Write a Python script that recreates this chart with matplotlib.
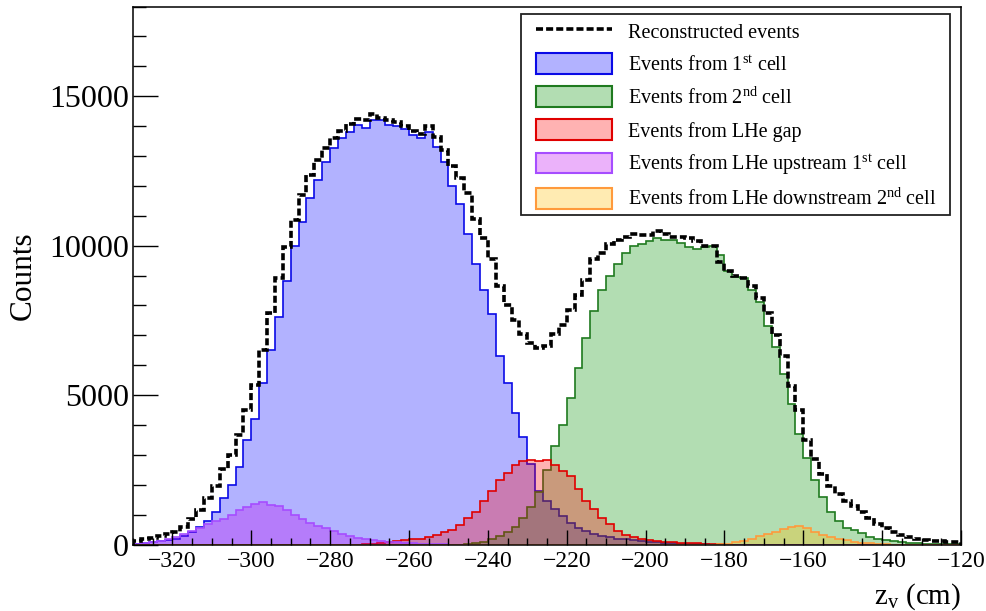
import numpy as np
import matplotlib
matplotlib.use('Agg')
import matplotlib.pyplot as plt
from matplotlib.patches import Patch, Rectangle
from matplotlib.lines import Line2D
from matplotlib.ticker import MultipleLocator

plt.rcParams['font.family'] = 'Liberation Serif'
plt.rcParams['mathtext.fontset'] = 'custom'
plt.rcParams['mathtext.rm'] = 'Liberation Serif'
plt.rcParams['mathtext.it'] = 'Liberation Serif:italic'

# 2 cm bins from -330 to -120 cm
edges = np.arange(-330, -118, 2)

# reconstructed events, every bin (-329 ... -121)
total = [120, 170, 220, 270, 340, 430, 580, 850, 1150, 1550,
         1950, 2520, 3000, 3680, 4500, 5350, 6500, 7750, 8900, 9950,
         10850, 11700, 12350, 12850, 13250, 13600, 13850, 14080, 14250, 14200,
         14420, 14280, 14200, 14130, 14000, 13850, 13720, 14000, 13650, 13200,
         12680, 12250, 11750, 10900, 10250, 9550, 8650, 8000, 7500, 7050,
         6750, 6580, 6650, 7050, 7350, 7850, 8350, 8850, 9550, 9750,
         10050, 10200, 10300, 10380, 10350, 10350, 10480, 10400, 10300, 10280,
         10250, 10150, 9980, 10000, 9450, 9150, 9000, 8900, 8650, 8250,
         7750, 7000, 6300, 5300, 4500, 3500, 2850, 2350, 1950, 1700,
         1450, 1300, 1080, 880, 700, 540, 420, 320, 250, 200,
         160, 130, 110, 90, 80]

# components: (first bin low edge, counts)
cell1_start = -330
cell1 = [30, 50, 80, 110, 150, 200, 300, 420, 580, 800,
         1080, 1550, 2000, 2600, 3500, 4200, 5400, 6500, 7600, 8800,
         10000, 10800, 11600, 12200, 12800, 13250, 13600, 13800, 14050, 13950,
         14200, 14200, 14050, 14000, 13900, 13700, 13600, 13800, 13300, 12800,
         12000, 11400, 10400, 9400, 8500, 7700, 6300, 5400, 4400, 3600,
         2700, 1800, 1450, 1200, 950, 720, 560, 440, 360, 300,
         240, 200, 170, 140, 110, 90, 70, 50, 40, 30,
         20, 15, 10]

cell2_start = -246
cell2 = [30, 60, 100, 170, 280, 420, 600, 900, 1250, 1750,
         2500, 3300, 4000, 4900, 5900, 6900, 7800, 8500, 9000, 9400,
         9750, 10000, 10060, 10150, 10250, 10200, 10180, 10100, 9950, 9900,
         9950, 9980, 9700, 9150, 8950, 8900, 8500, 8100, 7300, 6600,
         5700, 4700, 3700, 2900, 2150, 1600, 1100, 780, 560, 470,
         380, 260, 200, 150, 110, 80, 60, 40, 25, 15,
         10, 5, 3]

gap_start = -272
gap = [10, 30, 50, 80, 110, 140, 170, 200, 260, 330,
       420, 500, 650, 880, 1100, 1450, 1800, 2150, 2400, 2650,
       2780, 2820, 2780, 2820, 2650, 2450, 2300, 1850, 1450, 1180,
       900, 680, 450, 330, 260, 200, 150, 120, 100, 80,
       60, 50, 40, 30, 20, 10]

upstream_start = -330
upstream = [20, 40, 70, 130, 180, 250, 350, 450, 550, 680,
            780, 860, 1000, 1150, 1250, 1350, 1420, 1330, 1290, 1150,
            1000, 850, 730, 630, 540, 450, 360, 290, 230, 180,
            140, 115, 95, 75, 55, 40, 30, 20, 15, 10]

downstream_start = -182
downstream = [10, 30, 70, 120, 200, 270, 340, 430, 520, 580,
              630, 540, 430, 330, 260, 190, 140, 100, 65, 35,
              15, 5]

labels = ['Reconstructed events',
          r'Events from 1$^{\rm st}$ cell',
          r'Events from 2$^{\rm nd}$ cell',
          'Events from LHe gap',
          r'Events from LHe upstream 1$^{\rm st}$ cell',
          r'Events from LHe downstream 2$^{\rm nd}$ cell']


def pad(start, vals):
    out = np.zeros(len(edges) - 1)
    i = (start - edges[0]) // 2
    out[i:i + len(vals)] = vals
    return out


comps = [
    (pad(cell1_start, cell1), (0, 0, 1, 0.3), '#0a0ae6'),
    (pad(cell2_start, cell2), (0, 0.57, 0, 0.3), '#1f7a1f'),
    (pad(gap_start, gap), (1, 0, 0, 0.3), '#e00000'),
    (pad(upstream_start, upstream), (0.75, 0, 0.94, 0.3), '#a64dff'),
    (pad(downstream_start, downstream), (1, 0.74, 0, 0.3), '#ff9a3c'),
]

fig = plt.figure(figsize=(9.86, 6.11), dpi=100)
ax = fig.add_axes([133 / 986, 66.5 / 611, 828 / 986, 538 / 611])

for vals, fc, lc in comps:
    ax.stairs(vals, edges, fill=True, facecolor=fc, edgecolor='none', linewidth=0)
    ax.stairs(vals, edges, color=lc, linewidth=1.2)

dash = (0, (1.95, 0.85))
ax.stairs(total, edges, color='k', linewidth=2.6, linestyle=dash)

ax.set_xlim(-330, -120)
ax.set_ylim(0, 18000)
ax.xaxis.set_major_locator(MultipleLocator(20))
ax.xaxis.set_minor_locator(MultipleLocator(5))
ax.yaxis.set_major_locator(MultipleLocator(5000))
ax.yaxis.set_minor_locator(MultipleLocator(1000))
ax.tick_params(which='both', direction='in', top=False, right=False, width=1)
ax.tick_params(axis='y', which='major', length=18, labelsize=23, pad=3)
ax.tick_params(axis='y', which='minor', length=9.5)
ax.tick_params(axis='x', which='major', length=10.8, labelsize=17, pad=5)
ax.tick_params(axis='x', which='minor', length=5)
for s in ax.spines.values():
    s.set_linewidth(1.1)

ax.set_ylabel('Counts', fontsize=22.5)
ax.yaxis.set_label_coords((38 - 133) / 828, 0.5)
ax.set_xlabel(r'z$_{\rm v}$ (cm)', fontsize=21, loc='right')
ax.xaxis.label.set_va('baseline')
ax.xaxis.set_label_coords(1.0, (544.5 - 604) / 538)

# legend
handles = [Line2D([], [], color='k', linewidth=2.6, linestyle=dash)]
for vals, fc, lc in comps:
    handles.append(Patch(facecolor=fc, edgecolor=lc, linewidth=1.5))
frame = Rectangle((521 / 986, 1 - 215 / 611), 429 / 986, 201 / 611,
                  transform=fig.transFigure, facecolor='white',
                  edgecolor='#222222', linewidth=1.3, zorder=4, clip_on=False)
ax.add_patch(frame)
leg = ax.legend(handles, labels, loc='upper left',
                bbox_to_anchor=(536.2 / 986, 1 - 20.5 / 611),
                bbox_transform=fig.transFigure, frameon=False, fontsize=14.5,
                handlelength=3.75, handleheight=1.2, handletextpad=0.8,
                labelspacing=0.54, borderpad=0, borderaxespad=0)
leg.set_zorder(5)

fig.savefig('out.png', dpi=100)
